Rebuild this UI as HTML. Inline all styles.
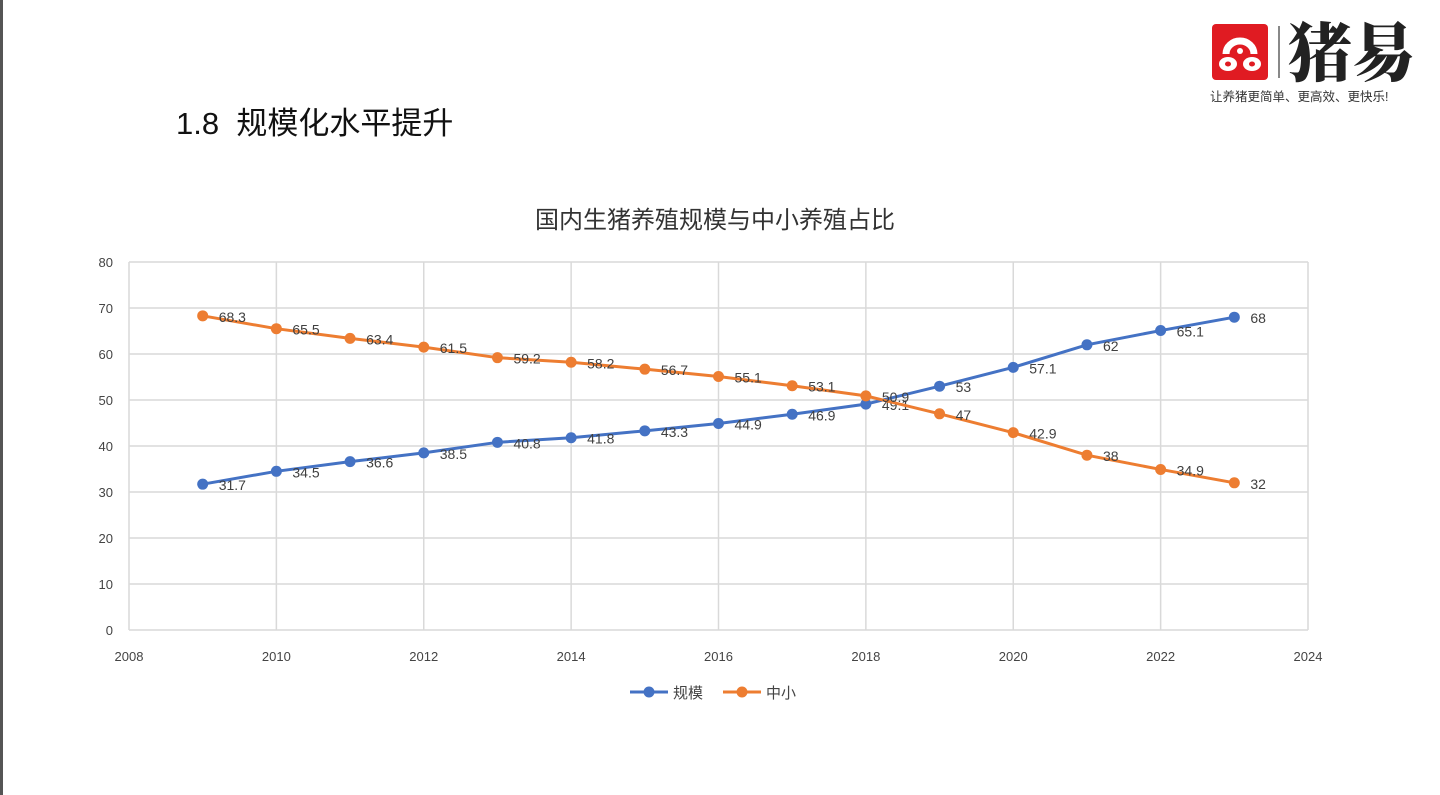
<!DOCTYPE html>
<html><head><meta charset="utf-8"><style>
body{margin:0;width:1440px;height:795px;background:#fff;overflow:hidden;position:relative;font-family:"Liberation Sans","Noto Sans CJK SC",sans-serif}
.lb{position:absolute;left:0;top:0;width:3px;height:795px;background:#555}
</style></head><body>
<div class="lb"></div>
<div style="position:absolute;left:176px;top:98px;font-size:31px;color:#111">1.8&nbsp;&nbsp;规模化水平提升</div>
<div style="position:absolute;left:1210px;top:22px;width:225px;height:80px">
 <div style="position:absolute;left:2px;top:2px;width:56px;height:56px;background:#e01b22;border-radius:4px">
  <svg width="56" height="56"><path d="M14 30 A14 13 0 0 1 42 30" stroke="#fff" stroke-width="7" fill="none"/><ellipse cx="16" cy="40" rx="9" ry="7" fill="#fff"/><ellipse cx="40" cy="40" rx="9" ry="7" fill="#fff"/><ellipse cx="16" cy="40" rx="3" ry="2.5" fill="#e01b22"/><ellipse cx="40" cy="40" rx="3" ry="2.5" fill="#e01b22"/><circle cx="28" cy="27" r="3" fill="#fff"/></svg>
 </div>
 <div style="position:absolute;left:68px;top:4px;width:2px;height:52px;background:#888"></div>
 <div style="position:absolute;left:78px;top:-9px;font-size:64px;font-family:'Noto Serif CJK SC',serif;font-weight:900;color:#222;line-height:72px">猪易</div>
 <div style="position:absolute;left:0;top:64px;font-size:12.5px;color:#333;white-space:nowrap">让养猪更简单、更高效、更快乐!</div>
</div>
<svg id="chart" width="1440" height="795" style="position:absolute;left:0;top:0"></svg>
<script>
const years=[2009,2010,2011,2012,2013,2014,2015,2016,2017,2018,2019,2020,2021,2022,2023];
const scale=[31.7,34.5,36.6,38.5,40.8,41.8,43.3,44.9,46.9,49.1,53,57.1,62,65.1,68];
const small=[68.3,65.5,63.4,61.5,59.2,58.2,56.7,55.1,53.1,50.9,47,42.9,38,34.9,32];
const xTicks=[2008,2010,2012,2014,2016,2018,2020,2022,2024];
const yTicks=[0,10,20,30,40,50,60,70,80];
const svg=document.getElementById('chart');const NS='http://www.w3.org/2000/svg';
const L=129,R=1308,T=262,B=630;
const x=v=>L+(v-2008)/16*(R-L);const y=v=>B-v/80*(B-T);
function mk(t,a,p){const e=document.createElementNS(NS,t);for(const k in a)e.setAttribute(k,a[k]);(p||svg).appendChild(e);return e;}
const title=mk('text',{x:715,y:228,'text-anchor':'middle','font-size':24,fill:'#333'});title.textContent='国内生猪养殖规模与中小养殖占比';


yTicks.forEach(v=>{const l=mk('line',{x1:L,x2:R,y1:y(v),y2:y(v),stroke:'#d9d9d9','stroke-width':1.5});


const t=mk('text',{x:113,y:y(v)+5,'text-anchor':'end','font-size':13,fill:'#444'});t.textContent=v;

});
xTicks.forEach(v=>{const l=mk('line',{x1:x(v),x2:x(v),y1:T,y2:B,stroke:'#d9d9d9','stroke-width':1.5});


const t=mk('text',{x:x(v),y:661,'text-anchor':'middle','font-size':13,fill:'#444'});t.textContent=v;

});
function series(vals,color,name){
 const p=mk('polyline',{points:vals.map((v,i)=>x(years[i])+','+y(v)).join(' '),fill:'none',stroke:color,'stroke-width':3});
 
 
 vals.forEach((v,i)=>{const c=mk('circle',{cx:x(years[i]),cy:y(v),r:5.5,fill:color});
 
 
 const t=mk('text',{x:x(years[i])+16,y:y(v)+6,'font-size':14,fill:'#404040'});t.textContent=v;
 
 });
}
series(scale,'#4472c4','scale');
series(small,'#ed7d31','small');
[[630,'#4472c4','规模','legend-scale'],[723,'#ed7d31','中小','legend-small']].forEach(([lx,c,s,n])=>{
 const g=mk('g',{});
 mk('line',{x1:lx,x2:lx+38,y1:692,y2:692,stroke:c,'stroke-width':3},g);mk('circle',{cx:lx+19,cy:692,r:5.5,fill:c},g);
 const t=mk('text',{x:lx+43,y:698,'font-size':15,fill:'#444'},g);t.textContent=s;});
</script>
</body></html>
